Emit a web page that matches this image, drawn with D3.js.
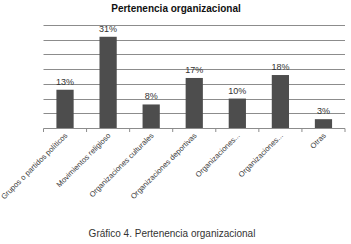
<!DOCTYPE html>
<html>
<head>
<meta charset="utf-8">
<script src="https://cdn.jsdelivr.net/npm/d3@7"></script>
<style>
  body { margin: 0; background: #fff; }
  text { font-family: "Liberation Sans", Arial, sans-serif; }
</style>
</head>
<body>
<svg id="svg"></svg>
<script>
const categories = ["Grupos o partidos políticos", "Movimientos religioso", "Organizaciones culturales",
  "Organizaciones deportivas", "Organizaciones...", "Organizaciones...", "Otras"]
const values = [13, 31, 8, 17, 10, 18, 3]
const yTicks = [0, 5, 10, 15, 20, 25, 30, 35]

const svg = d3.select("#svg").attr("width", 351).attr("height", 244)

const x = d3.scaleBand().domain(d3.range(categories.length)).range([43.5, 345]).paddingInner(0.6).paddingOuter(0.3)
const y = d3.scaleLinear().domain([0, 35]).range([128, 25])

// gridlines
svg.append("g")
  .selectAll("line")
  .data(yTicks.slice(1))
  .enter()
  .append("line")
  .attr("x1", 43.5)
  .attr("x2", 345)
  .attr("y1", (d) => Math.round(y(d)) + 0.5)
  .attr("y2", (d) => Math.round(y(d)) + 0.5)
  .attr("stroke", "#8c8c8c")
  .attr("stroke-width", 1)

// bars
svg.append("g")
  .selectAll("rect")
  .data(values)
  .enter()
  .append("rect")
  .attr("x", (d, i) => x(i))
  .attr("y", (d) => y(d))
  .attr("width", x.bandwidth())
  .attr("height", (d) => y(0) - y(d))
  .attr("fill", "#4d4d4d")

// value labels
svg.append("g")
  .selectAll("text")
  .data(values)
  .enter()
  .append("text")
  .attr("x", (d, i) => x(i) + x.bandwidth() / 2)
  .attr("y", (d) => y(d) - 5)
  .attr("text-anchor", "middle")
  .attr("font-size", 9)
  .attr("fill", "#333")
  .text((d) => d + "%")

// x axis
const step = (345 - 43.5) / categories.length
const axis = svg.append("g")
axis.append("line")
  .attr("x1", 43.5).attr("x2", 345)
  .attr("y1", 128.5).attr("y2", 128.5)
  .attr("stroke", "#8c8c8c")
axis.selectAll("line.tick")
  .data(d3.range(categories.length + 1))
  .enter()
  .append("line")
  .classed("tick", true)
  .attr("x1", (d) => 43.5 + d * step)
  .attr("x2", (d) => 43.5 + d * step)
  .attr("y1", 128.5).attr("y2", 132)
  .attr("stroke", "#8c8c8c")

axis.selectAll("text")
  .data(categories)
  .enter()
  .append("text")
  .attr("transform", (d, i) => `translate(${x(i) + x.bandwidth() / 2 + 3}, 136) rotate(-45)`)
  .attr("text-anchor", "end")
  .attr("font-size", 7.6)
  .attr("fill", "#404040")
  .text((d) => d)

// title
svg.append("text")
  .attr("x", 176)
  .attr("y", 12)
  .attr("text-anchor", "middle")
  .attr("font-size", 10)
  .attr("font-weight", "bold")
  .attr("fill", "#111")
  .text("Pertenencia organizacional")

// caption
svg.append("text")
  .attr("x", 172)
  .attr("y", 237)
  .attr("text-anchor", "middle")
  .attr("font-size", 10)
  .attr("fill", "#333")
  .text("Gráfico 4. Pertenencia organizacional")
</script>
</body>
</html>
